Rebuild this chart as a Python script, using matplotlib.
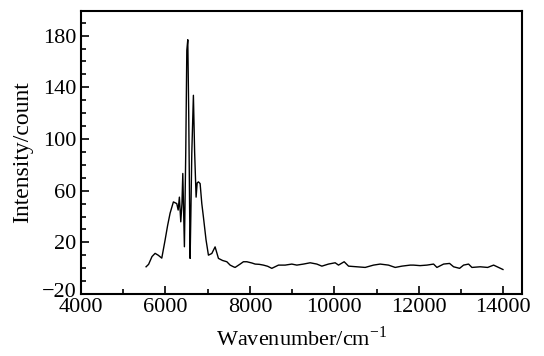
import matplotlib
matplotlib.use("Agg")
import matplotlib.pyplot as plt
from matplotlib.ticker import MultipleLocator
from matplotlib.transforms import ScaledTranslation

# 光谱数据
wavenumber = [5540, 5600, 5680, 5754, 5830, 5912, 5990, 6050, 6109, 6187, 6267,
              6300, 6329, 6362, 6390, 6410, 6448, 6480, 6505, 6528, 6550,
              6583, 6600, 6623, 6661, 6690, 6725, 6750, 6780, 6820, 6860,
              6898, 6960, 7017, 7097, 7175, 7254, 7350, 7453, 7531, 7610,
              7649, 7768, 7846, 7927, 8050, 8123, 8220, 8320, 8420, 8518,
              8676, 8834, 8992, 9111, 9268, 9427, 9585, 9704, 9860, 10019,
              10098, 10232, 10336, 10533, 10730, 10927, 11085, 11282, 11441,
              11599, 11796, 11875, 12030, 12192, 12350, 12429, 12587, 12729,
              12824, 12966, 13060, 13179, 13258, 13455, 13630, 13772, 13889,
              13993]
intensity = [1.1, 3, 9, 11.5, 10, 7.8, 21.7, 33, 42.6, 51.3, 50,
             45, 55, 35.9, 50, 73.3, 16.6, 90, 168.6, 176.8, 120,
             7.6, 40, 89, 133.8, 90, 55, 66, 66.8, 65.5, 50,
             39.7, 22, 10.1, 11.4, 16.5, 7.6, 6, 5, 2.4, 1.1,
             0.6, 3.2, 5, 5, 4, 3.2, 3, 2.4, 1.5, -0.1,
             2.4, 2.4, 3.2, 2.4, 3.2, 4.2, 3.2, 1.6, 3.2, 4.2,
             2.4, 5, 1.6, 1.1, 0.6, 2.4, 3.2, 2.4, 0.6,
             1.6, 2.4, 2.4, 2, 2.4, 3.2, 0.6, 3.2, 3.7,
             1.1, -0.1, 2.4, 3.2, 0.6, 1.1, 0.6, 2.4, 0.6,
             -1]

xticks = [4000, 6000, 8000, 10000, 12000, 14000]
yticks = [-20, 20, 60, 100, 140, 180]
ytick_labels = ['\u221220', '20', '60', '100', '140', '180']

plt.rcParams['font.family'] = ['Liberation Serif', 'DejaVu Serif']
plt.rcParams['mathtext.fontset'] = 'stix'

fig = plt.figure(figsize=(5.44, 3.56), dpi=100)
ax = fig.add_axes([0.149, 0.174, 0.811, 0.795])

ax.plot(wavenumber, intensity, color='black', linewidth=1.0)

ax.set_xlim(4000, 14450)
ax.set_ylim(-20, 199)
ax.set_xticks(xticks)
ax.set_yticks(yticks)
ax.set_yticklabels(ytick_labels)
ax.xaxis.set_minor_locator(MultipleLocator(1000))
ax.yaxis.set_minor_locator(MultipleLocator(10))
ax.tick_params(which='both', direction='in', top=False, right=False, width=1.2)
ax.tick_params(axis='both', labelsize=16)
ax.tick_params(axis='x', pad=3)
ax.tick_params(which='major', length=6)
ax.tick_params(which='minor', length=3.5)
for s in ax.spines.values():
    s.set_linewidth(1.5)

# −20 と 4000 が重ならないよう少し上へ
lab = ax.get_yticklabels()[0]
lab.set_transform(lab.get_transform() + ScaledTranslation(0, 3 / 72, fig.dpi_scale_trans))

ax.set_xlabel('Wavenumber/cm$^{\\mathregular{-1}}$', fontsize=16, labelpad=7)
ax.set_ylabel('Intensity/count', fontsize=17, labelpad=6)

fig.savefig('out.png', dpi=100)
